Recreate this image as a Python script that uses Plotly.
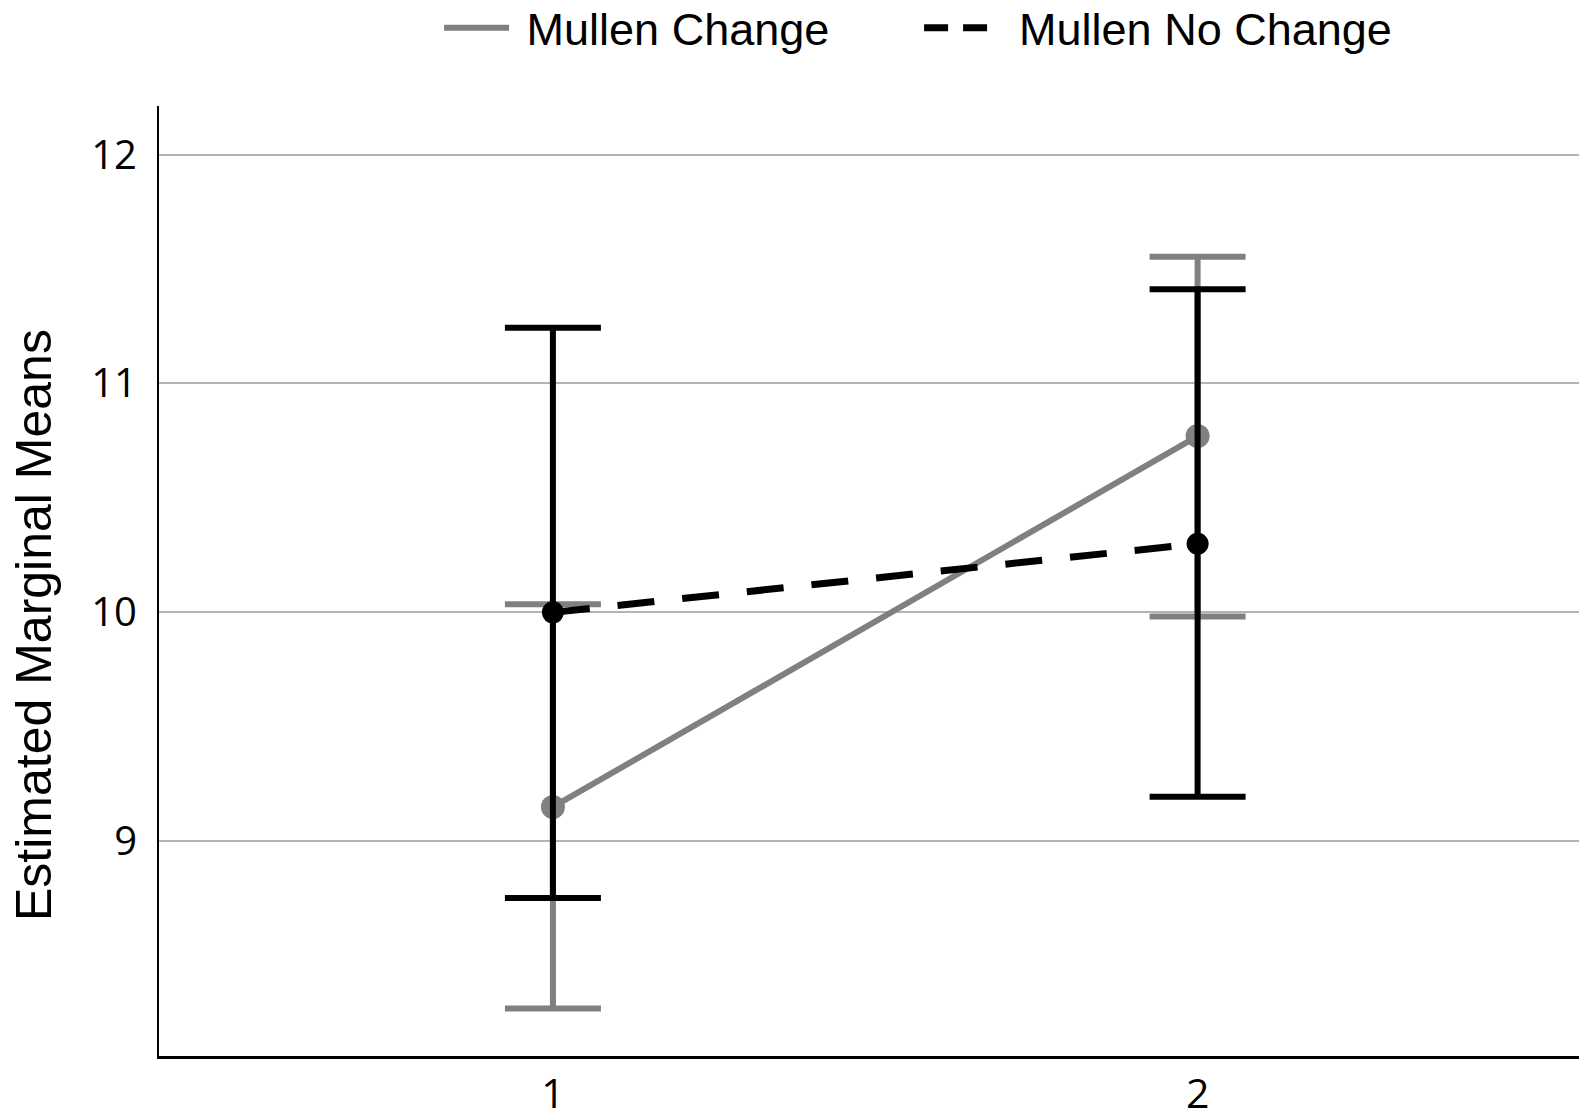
import plotly.graph_objects as go

time_points = [1, 2]
tick_labels = ["1", "2"]

change_means = [9.15, 10.77]
change_upper = [10.035, 11.553]
change_lower = [8.27, 9.982]

nochange_means = [10.0, 10.30]
nochange_upper = [11.243, 11.412]
nochange_lower = [8.752, 9.195]

y_ticks = [9, 10, 11, 12]

GREY = "#808080"
BLACK = "#000000"
FONT = "Liberation Sans Narrow, Liberation Sans, Arial Narrow, sans-serif"
NBSP = "\u00a0"

def plus(u, m):
    return [a - b for a, b in zip(u, m)]

def minus(m, l):
    return [a - b for a, b in zip(m, l)]

fig = go.Figure()

# Mullen Change
fig.add_trace(go.Scatter(
    x=time_points, y=change_means, mode="lines",
    name=NBSP + "Mullen Change", legendgroup="c",
    line=dict(color=GREY, width=6),
))
fig.add_trace(go.Scatter(
    x=time_points, y=change_means, mode="markers",
    name="Mullen Change", legendgroup="c", showlegend=False,
    marker=dict(color=GREY, size=24),
    error_y=dict(type="data", symmetric=False,
                 array=plus(change_upper, change_means),
                 arrayminus=minus(change_means, change_lower),
                 color=GREY, thickness=6, width=48),
))

# Mullen No Change
fig.add_trace(go.Scatter(
    x=time_points, y=nochange_means, mode="lines",
    name="Mullen No Change", legendgroup="n", showlegend=False,
    line=dict(color=BLACK, width=7, dash="37px,28px"),
))
# legend entry (shorter dash pattern so the key shows two dashes)
fig.add_trace(go.Scatter(
    x=[None], y=[None], mode="lines",
    name=NBSP + NBSP + "Mullen No Change", legendgroup="n",
    line=dict(color=BLACK, width=7, dash="24px,15px"),
))
fig.add_trace(go.Scatter(
    x=time_points, y=nochange_means, mode="markers",
    name="Mullen No Change", legendgroup="n", showlegend=False,
    marker=dict(color=BLACK, size=22),
    error_y=dict(type="data", symmetric=False,
                 array=plus(nochange_upper, nochange_means),
                 arrayminus=minus(nochange_means, nochange_lower),
                 color=BLACK, thickness=6, width=48),
))

fig.add_annotation(
    text="Estimated Marginal Means", textangle=-90,
    xref="paper", yref="paper", x=-0.0875, y=0.4537,
    xanchor="center", yanchor="middle", showarrow=False,
    font=dict(size=50, family=FONT, color="black"),
)

# page body has an 8px margin; the figure is sized to fill the window exactly
fig.update_layout(
    width=1579, height=1108,
    margin=dict(l=151, r=0, t=98, b=60, autoexpand=False),
    paper_bgcolor="white", plot_bgcolor="white",
    font=dict(family=FONT, color="black"),
    showlegend=True,
    legend=dict(orientation="h", xref="container", yref="container",
                x=0.273, xanchor="left", y=0.982, yanchor="middle",
                font=dict(size=45, family=FONT),
                itemwidth=65, entrywidth=400, entrywidthmode="pixels"),
    xaxis=dict(
        range=[0.389, 2.604], tickvals=time_points, ticktext=tick_labels,
        showgrid=False, zeroline=False, automargin=False,
        showline=True, linecolor="black", linewidth=3,
        ticks="", tickfont=dict(size=41, family="Open Sans, sans-serif"),
        ticklabelstandoff=0,
    ),
    yaxis=dict(
        range=[8.062, 12.212], tickvals=y_ticks, automargin=False,
        showgrid=True, gridcolor="#b4b4b4", gridwidth=2,
        zeroline=False, showline=True, linecolor="black", linewidth=2,
        ticks="", tickfont=dict(size=40, family="Open Sans, sans-serif"),
        ticklabelstandoff=12,
    ),
)

fig.write_html("out.html")
